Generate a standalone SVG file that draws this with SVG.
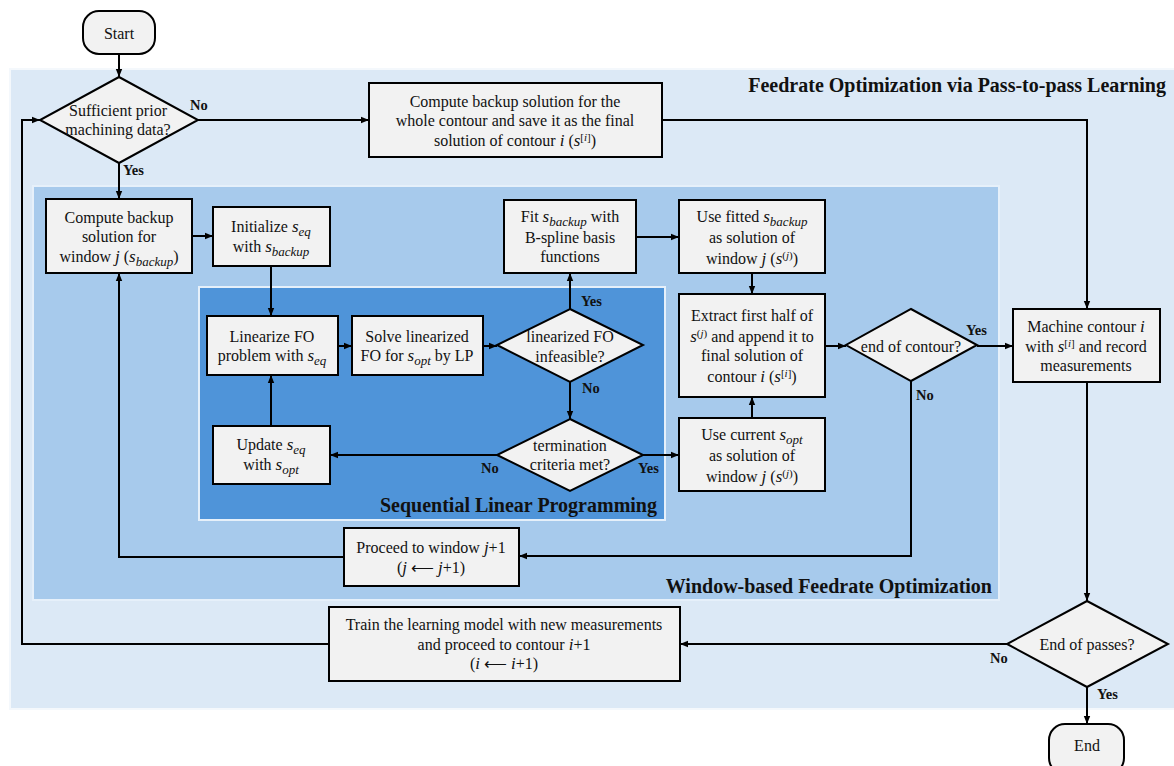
<svg xmlns="http://www.w3.org/2000/svg" width="1174" height="766" viewBox="0 0 1174 766">
<defs>
<marker id="arr" viewBox="0 0 8 8" refX="8" refY="4" markerWidth="8" markerHeight="8" markerUnits="userSpaceOnUse" orient="auto">
<path d="M0,0.8 L8,4 L0,7.2 Z" fill="#000"/>
</marker>
<style>
.box{fill:#f2f2f2;stroke:#000;stroke-width:2}
.t{font-family:"Liberation Serif","Times New Roman",serif;font-size:16px;fill:#111;text-anchor:middle}
.m{font-style:italic;font-size:17px}
.s{font-size:13px;font-style:italic}
.p{font-size:11px}
.mi{font-style:italic;font-size:11px}
.lbl{font-family:"Liberation Serif","Times New Roman",serif;font-size:14.5px;font-weight:bold;fill:#111}
.ttl{font-family:"Liberation Serif","Times New Roman",serif;font-size:20px;font-weight:bold;fill:#111;text-anchor:end}
.c{fill:none;stroke:#000;stroke-width:2}
</style>
</defs>
<rect width="1174" height="766" fill="#fff"/>
<g id="containers">
<rect x="10" y="69" width="1166" height="640" fill="#dce9f6" stroke="#f4f8fc" stroke-width="2"/>
<rect x="33" y="186" width="966" height="414" fill="#a7caec" stroke="#e6f0fa" stroke-width="2"/>
<rect x="199" y="287" width="466" height="233" fill="#4f94d9" stroke="#e6f0fa" stroke-width="2"/>
<text class="ttl" x="1166" y="92">Feedrate Optimization via Pass-to-pass Learning</text>
<text class="ttl" x="992" y="593">Window-based Feedrate Optimization</text>
<text class="ttl" x="657" y="512">Sequential Linear Programming</text>
</g>
<g id="connectors">
<path class="c" d="M119,54 V77" marker-end="url(#arr)"/>
<path class="c" d="M198,120 H369" marker-end="url(#arr)"/>
<path class="c" d="M119,163 V199" marker-end="url(#arr)"/>
<path class="c" d="M662,120 H1087 V309" marker-end="url(#arr)"/>
<path class="c" d="M192,236 H213" marker-end="url(#arr)"/>
<path class="c" d="M271,266 V316" marker-end="url(#arr)"/>
<path class="c" d="M338,346 H352" marker-end="url(#arr)"/>
<path class="c" d="M483,346 H497" marker-end="url(#arr)"/>
<path class="c" d="M570,309 V273" marker-end="url(#arr)"/>
<path class="c" d="M636,237 H679" marker-end="url(#arr)"/>
<path class="c" d="M752,273 V294" marker-end="url(#arr)"/>
<path class="c" d="M570,382 V419" marker-end="url(#arr)"/>
<path class="c" d="M497,455 H330" marker-end="url(#arr)"/>
<path class="c" d="M271,426 V375" marker-end="url(#arr)"/>
<path class="c" d="M643,455 H679" marker-end="url(#arr)"/>
<path class="c" d="M752,418 V397" marker-end="url(#arr)"/>
<path class="c" d="M825,346 H846" marker-end="url(#arr)"/>
<path class="c" d="M977,346 H1013" marker-end="url(#arr)"/>
<path class="c" d="M911,381 V556 H519" marker-end="url(#arr)"/>
<path class="c" d="M344,557 H119 V273" marker-end="url(#arr)"/>
<path class="c" d="M1087,382 V601" marker-end="url(#arr)"/>
<path class="c" d="M1007,644 H680" marker-end="url(#arr)"/>
<path class="c" d="M329,644 H22 V120 H40" marker-end="url(#arr)"/>
<path class="c" d="M1087,687 V724" marker-end="url(#arr)"/>
<text class="lbl" x="190" y="110">No</text>
<text class="lbl" x="123" y="175">Yes</text>
<text class="lbl" x="581" y="306">Yes</text>
<text class="lbl" x="582" y="393">No</text>
<text class="lbl" x="481" y="473">No</text>
<text class="lbl" x="638" y="473">Yes</text>
<text class="lbl" x="966" y="335">Yes</text>
<text class="lbl" x="916" y="400">No</text>
<text class="lbl" x="990" y="663">No</text>
<text class="lbl" x="1097" y="699">Yes</text>
</g>
<g id="start">
<rect class="box" x="83" y="11" width="72" height="43" rx="16"/>
<text class="t" x="119" y="39">Start</text>
</g>
<g id="sufficient">
<polygon class="box" points="119,77 198,120 119,163 40,120"/>
<text class="t" x="118" y="116">Sufficient prior</text>
<text class="t" x="118" y="135">machining data?</text>
</g>
<g id="backup-whole">
<rect class="box" x="369" y="83" width="293" height="74"/>
<text class="t" x="515" y="107">Compute backup solution for the</text>
<text class="t" x="515" y="126">whole contour and save it as the final</text>
<text class="t" x="515" y="146">solution of contour <tspan class="m">i</tspan> (<tspan class="m">s</tspan><tspan class="p" dy="-5">[<tspan class="mi">i</tspan>]</tspan><tspan dy="5">)</tspan></text>
</g>
<g id="backup-window">
<rect class="box" x="46" y="199" width="146" height="74"/>
<text class="t" x="119" y="223">Compute backup</text>
<text class="t" x="119" y="242">solution for</text>
<text class="t" x="119" y="262">window <tspan class="m">j</tspan> (<tspan class="m">s</tspan><tspan class="s" dy="4">backup</tspan><tspan dy="-4">)</tspan></text>
</g>
<g id="initialize">
<rect class="box" x="213" y="207" width="117" height="59"/>
<text class="t" x="271" y="232">Initialize <tspan class="m">s</tspan><tspan class="s" dy="4">eq</tspan></text>
<text class="t" x="271" y="252">with <tspan class="m">s</tspan><tspan class="s" dy="4">backup</tspan></text>
</g>
<g id="linearize">
<rect class="box" x="207" y="316" width="131" height="59"/>
<text class="t" x="272" y="342">Linearize FO</text>
<text class="t" x="272" y="361">problem with <tspan class="m">s</tspan><tspan class="s" dy="4">eq</tspan></text>
</g>
<g id="solve">
<rect class="box" x="352" y="316" width="131" height="59"/>
<text class="t" x="417" y="342">Solve linearized</text>
<text class="t" x="417" y="361">FO for <tspan class="m">s</tspan><tspan class="s" dy="4">opt</tspan><tspan dy="-4"> by LP</tspan></text>
</g>
<g id="infeasible">
<polygon class="box" points="570,309 643,345 570,382 497,345"/>
<text class="t" x="570" y="342">linearized FO</text>
<text class="t" x="570" y="362">infeasible?</text>
</g>
<g id="fit">
<rect class="box" x="504" y="200" width="132" height="73"/>
<text class="t" x="570" y="222">Fit <tspan class="m">s</tspan><tspan class="s" dy="4">backup</tspan><tspan dy="-4"> with</tspan></text>
<text class="t" x="570" y="243">B-spline basis</text>
<text class="t" x="570" y="262">functions</text>
</g>
<g id="use-fitted">
<rect class="box" x="679" y="200" width="146" height="73"/>
<text class="t" x="752" y="222">Use fitted <tspan class="m">s</tspan><tspan class="s" dy="4">backup</tspan></text>
<text class="t" x="752" y="243">as solution of</text>
<text class="t" x="752" y="264">window <tspan class="m">j</tspan> (<tspan class="m">s</tspan><tspan class="p" dy="-5">(<tspan class="mi">j</tspan>)</tspan><tspan dy="5">)</tspan></text>
</g>
<g id="extract">
<rect class="box" x="679" y="294" width="146" height="103"/>
<text class="t" x="752" y="321">Extract first half of</text>
<text class="t" x="752" y="342"><tspan class="m">s</tspan><tspan class="p" dy="-5">(<tspan class="mi">j</tspan>)</tspan><tspan dy="5"> and append it to</tspan></text>
<text class="t" x="752" y="361">final solution of</text>
<text class="t" x="752" y="382">contour <tspan class="m">i</tspan> (<tspan class="m">s</tspan><tspan class="p" dy="-5">[<tspan class="mi">i</tspan>]</tspan><tspan dy="5">)</tspan></text>
</g>
<g id="end-of-contour">
<polygon class="box" points="911,309 977,345 911,381 846,345"/>
<text class="t" x="911" y="352">end of contour?</text>
</g>
<g id="machine">
<rect class="box" x="1013" y="309" width="147" height="73"/>
<text class="t" x="1086" y="332">Machine contour <tspan class="m">i</tspan></text>
<text class="t" x="1086" y="352">with <tspan class="m">s</tspan><tspan class="p" dy="-5">[<tspan class="mi">i</tspan>]</tspan><tspan dy="5"> and record</tspan></text>
<text class="t" x="1086" y="371">measurements</text>
</g>
<g id="termination">
<polygon class="box" points="570,419 643,455 570,491 497,455"/>
<text class="t" x="570" y="451">termination</text>
<text class="t" x="570" y="470">criteria met?</text>
</g>
<g id="update">
<rect class="box" x="213" y="426" width="117" height="58"/>
<text class="t" x="271" y="450">Update <tspan class="m">s</tspan><tspan class="s" dy="4">eq</tspan></text>
<text class="t" x="271" y="470">with <tspan class="m">s</tspan><tspan class="s" dy="4">opt</tspan></text>
</g>
<g id="use-current">
<rect class="box" x="679" y="418" width="146" height="73"/>
<text class="t" x="752" y="440">Use current <tspan class="m">s</tspan><tspan class="s" dy="4">opt</tspan></text>
<text class="t" x="752" y="461">as solution of</text>
<text class="t" x="752" y="482">window <tspan class="m">j</tspan> (<tspan class="m">s</tspan><tspan class="p" dy="-5">(<tspan class="mi">j</tspan>)</tspan><tspan dy="5">)</tspan></text>
</g>
<g id="proceed">
<rect class="box" x="344" y="528" width="175" height="58"/>
<text class="t" x="431" y="553">Proceed to window <tspan class="m">j</tspan>+1</text>
<text class="t" x="431" y="573">(<tspan class="m">j</tspan> ⟵ <tspan class="m">j</tspan>+1)</text>
</g>
<g id="train">
<rect class="box" x="329" y="607" width="351" height="74"/>
<text class="t" x="504" y="630">Train the learning model with new measurements</text>
<text class="t" x="504" y="650">and proceed to contour <tspan class="m">i</tspan>+1</text>
<text class="t" x="504" y="669">(<tspan class="m">i</tspan> ⟵ <tspan class="m">i</tspan>+1)</text>
</g>
<g id="end-of-passes">
<polygon class="box" points="1087,601 1168,644 1087,687 1007,644"/>
<text class="t" x="1087" y="650">End of passes?</text>
</g>
<g id="end">
<rect class="box" x="1049" y="724" width="75" height="50" rx="16"/>
<text class="t" x="1087" y="751">End</text>
</g>
</svg>
